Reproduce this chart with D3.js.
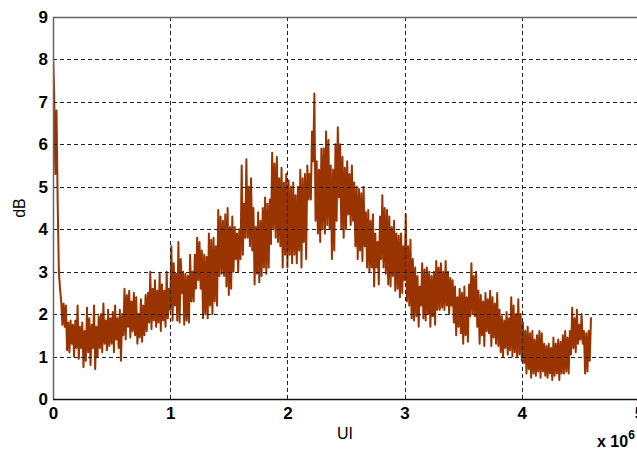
<!DOCTYPE html>
<html>
<head>
<meta charset="utf-8">
<script src="https://cdn.jsdelivr.net/npm/d3@7"></script>
<style>
  html, body { margin: 0; padding: 0; background: #fff; }
  svg { display: block; }
  text { font-family: "Liberation Sans", Arial, sans-serif; fill: #000; }
</style>
</head>
<body>
<svg id="chart" width="637" height="452"></svg>
<script>
// ---- data ----
const xTicks = [0, 1, 2, 3, 4, 5];
const yTicks = [0, 1, 2, 3, 4, 5, 6, 7, 8, 9];
const xLabel = "UI";
const yLabel = "dB";
const xMultiplier = "x 10";
const xExponent = "6";
const sampleStart = 0;      // in units of 10^6 UI
const sampleStep = 0.01;    // in units of 10^6 UI
// one value per sample (dB)
const dBValues = [
  8.1, 7.2, 5.3, 6.8, 4.6, 3.0, 2.6, 2.3, 1.75, 2.25,
  1.7, 2.2, 1.15, 1.8, 1.1, 1.85, 1.3, 1.75, 1.0, 1.85,
  1.2, 2.2, 0.95, 1.7, 1.2, 1.8, 0.75, 1.6, 0.9, 2.15,
  1.1, 1.9, 0.8, 1.75, 1.2, 2.2, 0.7, 1.7, 1.0, 1.95,
  1.2, 2.0, 1.1, 2.25, 1.3, 1.85, 1.15, 2.1, 1.25, 1.9,
  1.3, 2.05, 1.1, 2.2, 1.4, 1.9, 1.2, 2.1, 0.9, 2.0,
  1.5, 2.6, 1.4, 2.45, 1.7, 2.55, 1.45, 2.3, 1.6, 2.5,
  1.5, 2.4, 1.3, 2.0, 1.45, 2.35, 1.35, 2.2, 1.5, 2.45,
  1.6, 2.5, 1.8, 3.0, 1.65, 2.6, 1.85, 2.8, 1.7, 2.55,
  1.8, 2.95, 1.6, 2.7, 1.85, 2.55, 1.7, 3.0, 1.9, 2.6,
  2.1, 3.6, 1.85, 3.2, 2.2, 2.95, 1.85, 3.7, 1.8, 3.3,
  2.5, 3.0, 1.75, 2.95, 1.85, 2.9, 1.8, 3.4, 2.3, 3.0,
  2.3, 3.4, 2.6, 3.8, 2.8, 3.7, 2.6, 3.5, 1.9, 3.4,
  2.0, 3.35, 1.9, 3.9, 2.2, 3.75, 2.0, 3.8, 2.3, 3.6,
  2.2, 4.45, 2.9, 4.3, 2.95, 4.2, 2.9, 4.35, 2.65, 4.5,
  2.45, 4.05, 2.6, 4.3, 3.0, 4.05, 3.3, 3.9, 3.0, 4.0,
  3.3, 5.5, 3.4, 4.6, 3.8, 5.65, 3.8, 5.0, 3.6, 5.2,
  3.5, 4.5, 2.7, 4.05, 2.95, 4.4, 2.75, 4.2, 2.9, 4.5,
  3.1, 4.75, 2.95, 4.6, 3.1, 4.7, 3.65, 5.8, 4.0, 5.55,
  3.8, 5.7, 3.7, 5.2, 3.6, 5.45, 3.1, 5.1, 3.4, 5.3,
  3.1, 5.15, 3.4, 5.0, 3.2, 5.1, 3.4, 4.8, 3.2, 5.0,
  3.5, 5.4, 3.1, 5.2, 3.7, 5.3, 3.3, 5.5, 4.7, 5.3,
  4.7, 6.3, 5.6, 7.2, 4.2, 5.6, 3.9, 5.4, 3.7, 5.9,
  4.0, 5.9, 3.9, 6.3, 4.1, 6.1, 4.0, 5.5, 3.3, 5.4,
  3.5, 6.0, 4.2, 6.4, 4.75, 6.0, 4.0, 5.7, 3.8, 5.45,
  4.0, 5.6, 4.35, 5.3, 4.1, 5.5, 4.2, 5.1, 3.6, 5.0,
  3.3, 4.95, 3.5, 4.85, 3.25, 5.0, 3.6, 4.4, 3.1, 4.45,
  3.0, 4.2, 3.1, 4.35, 2.65, 3.9, 3.1, 3.7, 2.7, 4.3,
  3.3, 4.8, 3.1, 4.5, 2.95, 4.45, 2.7, 4.3, 2.65, 4.05,
  2.9, 4.2, 2.55, 3.9, 2.6, 3.85, 2.4, 3.9, 2.5, 3.6,
  2.8, 4.35, 2.3, 3.6, 2.2, 3.75, 1.9, 3.3, 1.85, 3.1,
  1.95, 2.9, 1.7, 2.65, 2.2, 3.2, 1.9, 3.05, 1.85, 3.1,
  2.0, 3.0, 1.7, 2.9, 1.95, 3.0, 1.75, 3.25, 2.1, 3.1,
  2.1, 3.2, 2.15, 3.0, 2.1, 3.25, 2.2, 3.0, 2.0, 2.85,
  2.2, 2.8, 1.8, 2.65, 1.5, 2.4, 1.7, 2.6, 1.55, 2.5,
  1.3, 2.65, 1.5, 2.4, 1.35, 2.7, 1.95, 3.2, 2.0, 2.9,
  1.95, 3.0, 1.7, 2.55, 1.3, 2.45, 1.5, 2.3, 1.25, 2.5,
  1.6, 2.35, 1.55, 2.55, 1.25, 2.4, 1.45, 2.25, 1.3, 2.5,
  1.25, 2.1, 1.1, 1.95, 1.0, 1.85, 1.2, 2.05, 1.05, 1.9,
  1.15, 2.4, 1.0, 2.2, 1.1, 2.0, 1.0, 2.35, 1.05, 2.0,
  0.9, 1.8, 0.85, 1.6, 0.6, 1.7, 0.7, 1.55, 0.5, 1.6,
  0.6, 1.4, 0.55, 1.5, 0.65, 1.6, 0.5, 1.55, 0.65, 1.3,
  0.55, 1.25, 0.5, 1.3, 0.6, 1.2, 0.45, 1.45, 0.55, 1.3,
  0.6, 1.4, 0.45, 1.35, 0.6, 1.5, 0.6, 1.6, 0.65, 1.45,
  0.6, 1.6, 1.05, 2.15, 1.2, 1.9, 1.1, 2.1, 1.3, 1.75,
  1.4, 2.0, 1.3, 1.6, 0.6, 1.55, 0.65, 1.6, 0.9, 1.9,
  1.9
];

// ---- layout ----
const W = 637, H = 452;
const plot = { left: 53, right: 639, top: 17, bottom: 399 };
const lineColor = "#993300";

const svg = d3.select("#chart");
const x = d3.scaleLinear().domain([0, 5]).range([plot.left, plot.right]);
const y = d3.scaleLinear().domain([0, 9]).range([plot.bottom, plot.top]);

const series = dBValues.map((v, i) => ({ ui: sampleStart + i * sampleStep, db: v }));

// clip
svg.append("defs").append("clipPath").attr("id", "clip")
  .append("rect").attr("x", plot.left).attr("y", plot.top)
  .attr("width", plot.right - plot.left).attr("height", plot.bottom - plot.top);

// data line
const line = d3.line().x(d => x(d.ui)).y(d => y(d.db));
svg.append("path")
  .datum(series)
  .attr("clip-path", "url(#clip)")
  .attr("fill", "none")
  .attr("stroke", lineColor)
  .attr("stroke-width", 2)
  .attr("stroke-linejoin", "round")
  .attr("d", line);

// grid (on top)
const grid = svg.append("g");
grid.selectAll("line.gy").data(yTicks.filter(t => t > 0 && t < 9)).join("line")
  .attr("x1", plot.left).attr("x2", plot.right)
  .attr("y1", d => Math.round(y(d)) + 0.5).attr("y2", d => Math.round(y(d)) + 0.5)
  .attr("stroke", "#222").attr("stroke-width", 1).attr("stroke-dasharray", "4,3");
grid.selectAll("line.gx").data(xTicks.filter(t => t > 0 && t < 5)).join("line")
  .attr("y1", plot.top).attr("y2", plot.bottom)
  .attr("x1", d => Math.round(x(d)) + 0.5).attr("x2", d => Math.round(x(d)) + 0.5)
  .attr("stroke", "#222").attr("stroke-width", 1).attr("stroke-dasharray", "4,3");

// frame
svg.append("line").attr("x1", plot.left).attr("x2", W).attr("y1", plot.top + 0.5).attr("y2", plot.top + 0.5)
  .attr("stroke", "#666").attr("stroke-width", 1.5);
svg.append("line").attr("x1", plot.left + 0.5).attr("x2", plot.left + 0.5).attr("y1", plot.top).attr("y2", plot.bottom)
  .attr("stroke", "#666").attr("stroke-width", 1.5);
svg.append("line").attr("x1", plot.left).attr("x2", W).attr("y1", plot.bottom + 0.5).attr("y2", plot.bottom + 0.5)
  .attr("stroke", "#111").attr("stroke-width", 1.5);

// axes via d3 (labels only)
const xAxis = d3.axisBottom(x).tickValues(xTicks).tickSize(0).tickPadding(8).tickFormat(d3.format("d"));
const gx = svg.append("g").attr("transform", `translate(0,${plot.bottom})`).call(xAxis);
gx.select(".domain").remove();
gx.selectAll("text").style("font-size", "17px").style("font-weight", "bold")
  .style("font-family", "Liberation Sans, Arial, sans-serif").attr("fill", "#000");

const yAxis = d3.axisLeft(y).tickValues(yTicks).tickSize(0).tickPadding(5).tickFormat(d3.format("d"));
const gy = svg.append("g").attr("transform", `translate(${plot.left},0)`).call(yAxis);
gy.select(".domain").remove();
gy.selectAll("text").style("font-size", "17px").style("font-weight", "bold")
  .style("font-family", "Liberation Sans, Arial, sans-serif").attr("fill", "#000");

// axis titles
svg.append("text").attr("x", 345).attr("y", 439)
  .attr("text-anchor", "middle").style("font-size", "16px").text(xLabel);
svg.append("text").attr("transform", `translate(25,${(plot.top + plot.bottom) / 2}) rotate(-90)`)
  .attr("text-anchor", "middle").style("font-size", "16px").text(yLabel);

// exponent
const ex = svg.append("text").attr("x", 597).attr("y", 447).style("font-size", "16px").style("font-weight", "bold");
ex.append("tspan").text(xMultiplier);
ex.append("tspan").attr("dy", -8).style("font-size", "12px").text(xExponent);
</script>
</body>
</html>
